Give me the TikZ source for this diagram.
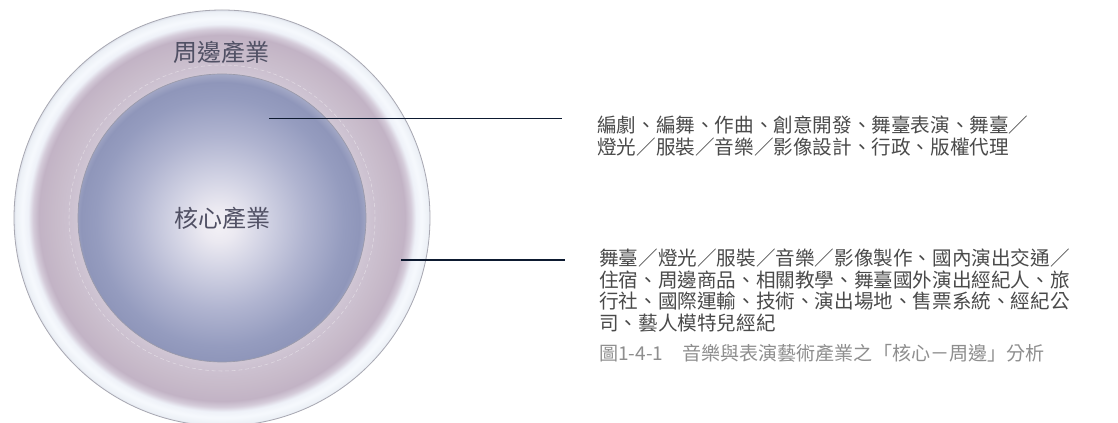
\documentclass[tikz,border=0pt]{standalone}
\usepackage{fontspec}
\setmainfont{Noto Sans CJK TC}
\newfontfamily\cjk{Noto Sans CJK TC}
\definecolor{txtdark}{HTML}{4A4A4A}
\definecolor{lbl}{HTML}{505064}
\definecolor{captgray}{HTML}{8E8E8E}
\definecolor{leadercol}{HTML}{0D1A30}
\definecolor{rimgray}{HTML}{A8A8B2}
\definecolor{coregray}{HTML}{9A9AAA}
\definecolor{ra}{HTML}{CDC3D2}
\definecolor{rb}{HTML}{D0C6D4}
\definecolor{rc}{HTML}{CDC2D1}
\definecolor{rd}{HTML}{C8BBCA}
\definecolor{re}{HTML}{C2B3C5}
\definecolor{rf}{HTML}{D4CBD9}
\definecolor{rg}{HTML}{EEF1F8}
\definecolor{rh}{HTML}{F6F9FD}
\definecolor{ri}{HTML}{ECF0F6}
\definecolor{rj}{HTML}{DDE1EA}
\definecolor{ca}{HTML}{F3F1F6}
\definecolor{cb}{HTML}{EBE9F1}
\definecolor{cc}{HTML}{D2D3E4}
\definecolor{cd}{HTML}{B0B4D0}
\definecolor{ce}{HTML}{959CBF}
\definecolor{cf}{HTML}{8F96BA}
\definecolor{cg}{HTML}{A3A8C6}
\pgfdeclareradialshading{ringshade}{\pgfpoint{0bp}{0bp}}{%
  color(0bp)=(ra);
  color(17.3bp)=(rb);
  color(18.0bp)=(rc);
  color(20.0bp)=(rd);
  color(22.0bp)=(re);
  color(22.7bp)=(rf);
  color(23.3bp)=(rg);
  color(24.0bp)=(rh);
  color(24.8bp)=(ri);
  color(25bp)=(rj);
  color(50bp)=(rj)}
\pgfdeclareradialshading{coreshade}{\pgfpoint{-0.6bp}{-1.2bp}}{%
  color(0bp)=(ca);
  color(3bp)=(cb);
  color(8bp)=(cc);
  color(15bp)=(cd);
  color(21.5bp)=(ce);
  color(24.2bp)=(cf);
  color(25.6bp)=(cg);
  color(50bp)=(cg)}
\tikzset{
  ringlabel/.style={font=\cjk\fontsize{18}{21}\selectfont, text=lbl, inner sep=0pt},
  desc/.style={font=\cjk\fontsize{14.7}{16.2}\selectfont, text=txtdark, align=left, inner sep=0pt, anchor=north west},
  capt/.style={font=\cjk\fontsize{14.3}{16}\selectfont, text=captgray, inner sep=0pt, anchor=west},
  leader/.style={draw=leadercol, line width=0.9pt},
}
\begin{document}
\begin{tikzpicture}[x=0.75pt,y=-0.75pt]
\clip (0,0) rectangle (1118,423);
\fill[white] (0,0) rectangle (1118,423);
% outer ring
\shade[shading=ringshade] (222,218) circle (208);
\draw[rimgray, line width=0.6pt] (222,218) circle (208);
\draw[white, opacity=0.4, dash pattern=on 3pt off 2pt, line width=0.4pt] (222,218) circle (153);
% core
\shade[shading=coreshade] (222,218) circle (144);
\draw[coregray, line width=0.5pt] (222,218) circle (144);
% labels
\node[ringlabel] (periphlbl) at (221,52) {周邊產業};
\node[ringlabel] (corelbl) at (222,218) {核心產業};
% descriptions
\node[desc] (coredesc) at (597,115.5) {編劇、編舞、作曲、創意開發、舞臺表演、舞臺／\\燈光／服裝／音樂／影像設計、行政、版權代理};
\node[desc] (periphdesc) at (599,248.5) {舞臺／燈光／服裝／音樂／影像製作、國內演出交通／\\住宿、周邊商品、相關教學、舞臺國外演出經紀人、旅\\行社、國際運輸、技術、演出場地、售票系統、經紀公\\司、藝人模特兒經紀};
\node[capt] (caption) at (599,353.5) {圖1-4-1　音樂與表演藝術產業之「核心－周邊」分析};
% leader lines
\coordinate (corept) at (269,118.3);
\coordinate (coreend) at (562,118.3);
\coordinate (periphpt) at (401,260);
\coordinate (periphend) at (565,260);
\draw[leader] (corept) -- (coreend);
\draw[leader] (periphpt) -- (periphend);
\end{tikzpicture}
\end{document}
